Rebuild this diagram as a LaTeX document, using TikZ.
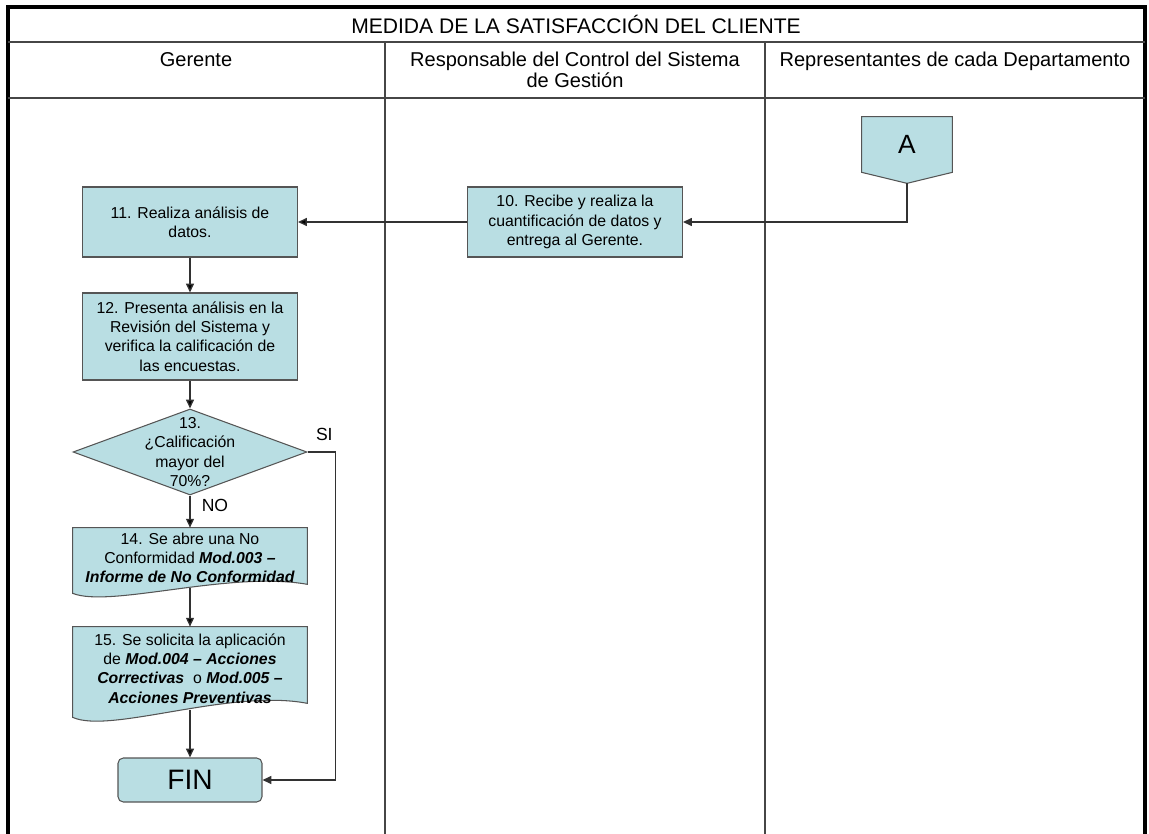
\documentclass[tikz,border=0pt]{standalone}
\usepackage{fontspec}
\setmainfont{Liberation Sans}
\usetikzlibrary{arrows.meta,shapes.geometric,calc,backgrounds}
\definecolor{stepfill}{RGB}{185,222,227}
\definecolor{stepline}{RGB}{85,85,85}
\definecolor{flowline}{RGB}{50,50,50}
\definecolor{gridline}{RGB}{70,70,70}

\begin{document}
\begin{tikzpicture}[x=0.02cm,y=-0.02cm,
	head text/.style={font=\fontsize{11.4}{12}\selectfont,align=center,inner sep=0pt},
	step text/.style={font=\fontsize{9}{11}\selectfont,align=center,inner sep=1pt},
	step shape/.style={fill=stepfill,draw=stepline,line width=0.6pt},
	proc node/.style={step text,step shape,rectangle,minimum width=4.3cm},
	doc node/.style={step text,minimum width=4.68cm},
	decision node/.style={step shape,diamond,inner sep=0pt,minimum width=4.68cm,minimum height=1.72cm},
	end node/.style={step shape,rectangle,rounded corners=3pt,minimum width=2.88cm,minimum height=0.88cm,font=\fontsize{16}{16}\selectfont},
	page node/.style={minimum width=1.8cm,minimum height=1.1cm,font=\fontsize{15}{15}\selectfont},
	flow/.style={draw=flowline,line width=0.75pt,-{Triangle[length=5pt,width=4.5pt]}}]
	
	\useasboundingbox (0,0) rectangle (1149,834);
	
	\draw[line width=2.3pt] (8,834) -- (8,7) -- (1145,7) -- (1145,834);
	\draw[gridline,line width=0.8pt] (8,42) -- (1145,42) (8,98) -- (1145,98)
		(385,42) -- (385,834) (765,42) -- (765,834);
	
	\node[head text,font=\fontsize{12}{12}\selectfont] at (576,24) (title) {MEDIDA DE LA SATISFACCIÓN DEL CLIENTE};
	\node[head text,anchor=north] at (196,52) (lane1) {Gerente};
	\node[head text,anchor=north] at (575,52) (lane2) {Responsable del Control del Sistema\\de Gestión};
	\node[head text,anchor=north] at (955,52) (lane3) {Representantes de cada Departamento};
	
	\node[page node] at (907,144.5) (A) {A};
	\coordinate (A tip) at ($(A.south)+(0,11)$);
	\node[proc node,minimum height=1.4cm] at (575,222) (10) {10. Recibe y realiza la\\cuantificación de datos y\\entrega al Gerente.};
	\node[proc node,minimum height=1.4cm] at (190,222) (11) {11. Realiza análisis de\\datos.};
	\node[proc node,minimum height=1.74cm] at (190,336.5) (12) {12. Presenta análisis en la\\Revisión del Sistema y\\verifica la calificación de\\las encuestas.};
	\node[decision node] at (190,452) (13) {};
	\node[step text] at (13) (13 text) {13.\\¿Calificación\\mayor del\\70\%?};
	\node[doc node,minimum height=1.2cm] at (190,558) (14) {14. Se abre una No\\Conformidad {\bfseries\itshape Mod.003 –}\\{\bfseries\itshape Informe de No Conformidad}};
	\node[doc node,minimum height=1.66cm] at (190,668.5) (15) {15. Se solicita la aplicación\\de {\bfseries\itshape Mod.004 – Acciones}\\{\bfseries\itshape Correctivas}~ o {\bfseries\itshape Mod.005 –}\\{\bfseries\itshape Acciones Preventivas}};
	\node[end node] at (190,780) (fin) {FIN};
	
	\begin{scope}[on background layer]
		\draw[step shape] (A.north west) -- (A.north east) -- (A.south east) -- (A tip) -- (A.south west) -- cycle;
		\draw[step shape] (14.north west) -- (14.north east) -- ($(14.south east)+(0,-4)$)
			.. controls ($(14.south)+(40,-18)$) and ($(14.south)+(-80,20)$) .. ($(14.south west)+(0,5)$) -- cycle;
		\draw[step shape] (15.north west) -- (15.north east) -- ($(15.south east)+(0,-7)$)
			.. controls ($(15.south)+(40,-22)$) and ($(15.south)+(-80,24)$) .. ($(15.south west)+(0,7)$) -- cycle;
	\end{scope}
	
	\draw[flow] (A tip) |- (10);
	\path[flow,every node/.style={font=\fontsize{10}{10}\selectfont}]
		(10) edge (11)
		(11) edge (12)
		(12) edge (13)
		(13) edge node[right=3pt,pos=0.3] {NO} (14)
		(14) edge (15)
		(15) edge (fin);
	\draw[flow] (13.east) -- node[above=3pt,pos=0.6,font=\fontsize{10}{10}\selectfont] (si) {SI} ++(28,0) |- (fin);
\end{tikzpicture}
\end{document}
